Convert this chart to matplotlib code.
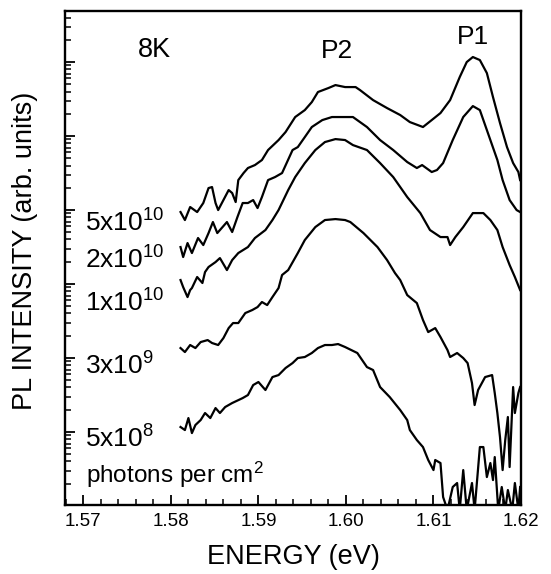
import matplotlib
matplotlib.use('Agg')
import matplotlib.pyplot as plt
import numpy as np
from matplotlib.ticker import LogLocator, NullFormatter, MultipleLocator, FormatStrFormatter

plt.rcParams['font.family'] = ['Liberation Sans', 'DejaVu Sans']
plt.rcParams['mathtext.fontset'] = 'custom'
plt.rcParams['mathtext.rm'] = 'Liberation Sans'
plt.rcParams['mathtext.it'] = 'Liberation Sans:italic'
plt.rcParams['mathtext.bf'] = 'Liberation Sans:bold'

# ---- data (energy in eV, log10 of PL intensity in arb. units) ----
E_5e10 = [1.5811, 1.5816, 1.5822, 1.5830, 1.5837, 1.5843, 1.5847, 1.5851, 1.5854, 1.5860,
          1.5866, 1.5870, 1.5874, 1.5877, 1.5883, 1.5888, 1.5896, 1.5904, 1.5911, 1.5923,
          1.5931, 1.5942, 1.5953, 1.5961, 1.5968, 1.5980, 1.5988, 1.5999, 1.6011, 1.6016,
          1.6031, 1.6047, 1.6062, 1.6073, 1.6088, 1.6098, 1.6108, 1.6119, 1.6130, 1.6138,
          1.6145, 1.6153, 1.6161, 1.6168, 1.6176, 1.6184, 1.6191, 1.6197, 1.6199]
logI_5e10 = [2.973, 2.865, 3.041, 2.973, 3.095, 3.297, 3.311, 3.095, 3.000, 3.135,
             3.270, 3.230, 3.108, 3.405, 3.500, 3.568, 3.608, 3.676, 3.811, 3.946,
             4.054, 4.257, 4.351, 4.459, 4.595, 4.649, 4.689, 4.662, 4.662, 4.622,
             4.486, 4.378, 4.284, 4.189, 4.122, 4.216, 4.311, 4.486, 4.797, 5.000,
             5.068, 5.027, 4.851, 4.527, 4.176, 3.851, 3.635, 3.514, 3.405]

E_2e10 = [1.5811, 1.5814, 1.5819, 1.5824, 1.5831, 1.5837, 1.5843, 1.5848, 1.5853, 1.5859,
          1.5864, 1.5870, 1.5876, 1.5882, 1.5888, 1.5894, 1.5899, 1.5904, 1.5911, 1.5919,
          1.5927, 1.5939, 1.5945, 1.5953, 1.5961, 1.5973, 1.5984, 1.5999, 1.6008, 1.6024,
          1.6039, 1.6054, 1.6070, 1.6081, 1.6087, 1.6098, 1.6104, 1.6111, 1.6122, 1.6134,
          1.6145, 1.6153, 1.6161, 1.6173, 1.6179, 1.6187, 1.6195, 1.6199]
logI_2e10 = [2.500, 2.365, 2.554, 2.419, 2.622, 2.527, 2.689, 2.838, 2.689, 2.770,
             2.838, 2.703, 2.905, 3.095, 3.095, 3.135, 3.027, 3.176, 3.405, 3.446,
             3.500, 3.811, 3.851, 3.986, 4.122, 4.216, 4.257, 4.257, 4.257, 4.122,
             3.946, 3.811, 3.649, 3.568, 3.608, 3.514, 3.541, 3.635, 3.946, 4.257,
             4.405, 4.351, 4.081, 3.676, 3.405, 3.135, 3.000, 2.973]

E_1e10 = [1.5811, 1.5814, 1.5819, 1.5822, 1.5824, 1.5830, 1.5836, 1.5839, 1.5843, 1.5851,
          1.5856, 1.5862, 1.5864, 1.5870, 1.5877, 1.5888, 1.5896, 1.5908, 1.5916, 1.5923,
          1.5934, 1.5942, 1.5953, 1.5965, 1.5976, 1.5988, 1.5999, 1.6008, 1.6024, 1.6039,
          1.6054, 1.6070, 1.6085, 1.6096, 1.6108, 1.6116, 1.6119, 1.6125, 1.6134, 1.6145,
          1.6157, 1.6165, 1.6173, 1.6179, 1.6187, 1.6193, 1.6199]
logI_1e10 = [2.054, 1.959, 1.824, 1.919, 1.946, 2.095, 2.014, 2.162, 2.230, 2.297,
             2.351, 2.230, 2.189, 2.324, 2.419, 2.500, 2.622, 2.730, 2.865, 3.000,
             3.270, 3.446, 3.635, 3.811, 3.919, 3.959, 3.946, 3.878, 3.811, 3.635,
             3.446, 3.176, 2.959, 2.730, 2.635, 2.635, 2.527, 2.635, 2.770, 2.959,
             2.959, 2.865, 2.730, 2.500, 2.257, 2.095, 1.919]

E_3e9 = [1.5811, 1.5816, 1.5822, 1.5828, 1.5834, 1.5842, 1.5847, 1.5854, 1.5860, 1.5866,
         1.5871, 1.5877, 1.5885, 1.5893, 1.5899, 1.5904, 1.5910, 1.5916, 1.5923, 1.5927,
         1.5934, 1.5945, 1.5953, 1.5965, 1.5976, 1.5988, 1.5999, 1.6005, 1.6020, 1.6036,
         1.6047, 1.6056, 1.6062, 1.6070, 1.6081, 1.6088, 1.6094, 1.6102, 1.6108, 1.6116,
         1.6119, 1.6127, 1.6134, 1.6139, 1.6144, 1.6147, 1.6151, 1.6159, 1.6167, 1.6170,
         1.6173, 1.6176, 1.6179, 1.6182, 1.6185, 1.6187, 1.6191, 1.6193, 1.6197, 1.6199]
logI_3e9 = [1.135, 1.081, 1.176, 1.135, 1.216, 1.243, 1.203, 1.176, 1.270, 1.405,
            1.473, 1.473, 1.608, 1.649, 1.689, 1.757, 1.716, 1.824, 1.946, 2.122,
            2.189, 2.419, 2.595, 2.770, 2.865, 2.878, 2.865, 2.838, 2.689, 2.500,
            2.324, 2.149, 2.054, 1.851, 1.743, 1.514, 1.351, 1.405, 1.284, 1.108,
            1.014, 1.068, 1.000, 0.932, 0.662, 0.365, 0.568, 0.743, 0.770, 0.527,
            0.257, -0.068, -0.514, -0.108, 0.203, -0.473, 0.608, 0.257, 0.527, 0.608]

E_5e8 = [1.5811, 1.5816, 1.5820, 1.5824, 1.5828, 1.5834, 1.5839, 1.5845, 1.5851, 1.5856,
         1.5862, 1.5870, 1.5882, 1.5888, 1.5894, 1.5900, 1.5908, 1.5916, 1.5923, 1.5931,
         1.5939, 1.5945, 1.5953, 1.5961, 1.5968, 1.5976, 1.5984, 1.5991, 1.5999, 1.6013,
         1.6024, 1.6031, 1.6039, 1.6050, 1.6062, 1.6070, 1.6073, 1.6081, 1.6088, 1.6094,
         1.6100, 1.6102, 1.6108, 1.6111, 1.6116, 1.6122, 1.6127, 1.6130, 1.6134, 1.6138,
         1.6144, 1.6147, 1.6153, 1.6157, 1.6161, 1.6165, 1.6168, 1.6170, 1.6174, 1.6178,
         1.6182, 1.6185, 1.6190, 1.6193, 1.6197, 1.6199]
logI_5e8 = [0.068, 0.027, 0.189, -0.014, 0.095, 0.162, 0.257, 0.189, 0.324, 0.257,
            0.338, 0.392, 0.459, 0.500, 0.635, 0.676, 0.568, 0.743, 0.770, 0.865,
            0.932, 1.000, 1.014, 1.068, 1.135, 1.176, 1.176, 1.189, 1.149, 1.068,
            0.878, 0.838, 0.608, 0.473, 0.297, 0.162, 0.027, -0.108, -0.203, -0.378,
            -0.514, -0.378, -0.419, -0.878, -1.054, -0.743, -0.689, -1.054, -0.514, -1.054,
            -0.689, -1.054, -0.203, -0.203, -0.608, -0.419, -0.649, -0.338, -1.054, -0.743,
            -1.054, -0.784, -1.054, -0.689, -1.054, -0.743]

series = [(E_5e10, logI_5e10), (E_2e10, logI_2e10), (E_1e10, logI_1e10),
          (E_3e9, logI_3e9), (E_5e8, logI_5e8)]
fluence_labels = [r'5x10$^{\mathregular{10}}$', r'2x10$^{\mathregular{10}}$',
                  r'1x10$^{\mathregular{10}}$', r'3x10$^{\mathregular{9}}$',
                  r'5x10$^{\mathregular{8}}$']
x_ticks = [1.57, 1.58, 1.59, 1.60, 1.61, 1.62]

# ---- figure ----
fig = plt.figure(figsize=(5.51, 5.74), dpi=100)
ax = fig.add_axes([65 / 551, 1 - 505 / 574, 456 / 551, 494 / 574])

for E, logI in series:
    ax.plot(E, 10 ** np.array(logI), color='black', lw=1.6)

ax.set_yscale('log')
ax.set_ylim(10 ** -0.986, 10 ** 5.69)
ax.set_xlim(1.5679, 1.62)

ax.set_xticks(x_ticks)
ax.xaxis.set_major_formatter(FormatStrFormatter('%.2f'))
ax.xaxis.set_minor_locator(MultipleLocator(0.002))
ax.yaxis.set_major_locator(LogLocator(base=10, numticks=20))
ax.yaxis.set_minor_locator(LogLocator(base=10, subs=np.arange(2, 10), numticks=20))
ax.yaxis.set_major_formatter(NullFormatter())
ax.yaxis.set_minor_formatter(NullFormatter())

ax.tick_params(axis='both', which='major', direction='in', length=7, width=1.3,
               top=False, right=False, labelsize=13.5, pad=6)
ax.tick_params(axis='both', which='minor', direction='in', length=4, width=1.1,
               top=False, right=False)
for s in ax.spines.values():
    s.set_linewidth(1.7)

# labels
fig.text(293 / 551, 1 - 557 / 574, 'ENERGY (eV)', ha='center', va='center', fontsize=19.5)
fig.text(25 / 551, 1 - 251 / 574, 'PL INTENSITY (arb. units)', ha='center', va='center',
         rotation=90, fontsize=19.5)

ax.text(0.197, 0.921, '8K', transform=ax.transAxes, ha='center', va='center', fontsize=19.5)
ax.text(0.596, 0.919, 'P2', transform=ax.transAxes, ha='center', va='center', fontsize=19)
ax.text(0.895, 0.947, 'P1', transform=ax.transAxes, ha='center', va='center', fontsize=19)

label_y = [0.553, 0.478, 0.391, 0.263, 0.117]
for lab, yy in zip(fluence_labels, label_y):
    ax.text(0.044, yy, lab, transform=ax.transAxes, ha='left', va='baseline', fontsize=19)
ax.text(0.047, 0.0445, r'photons per cm$^{\mathregular{2}}$', transform=ax.transAxes,
        ha='left', va='baseline', fontsize=17.5)

fig.savefig('out.png', dpi=100)
